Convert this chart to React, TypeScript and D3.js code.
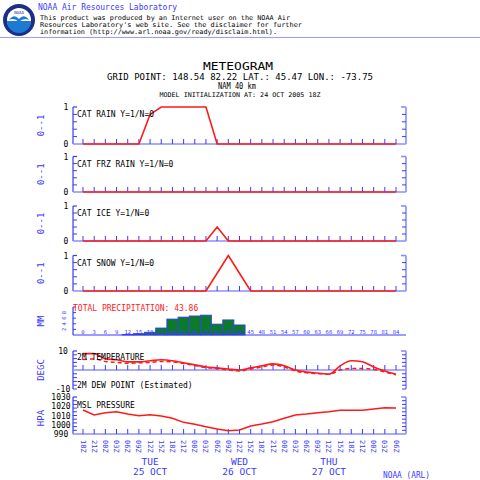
import React from 'react';
import * as d3 from 'd3';

const hours = [0,3,6,9,12,15,18,21,24,27,30,33,36,39,42,45,48,51,54,57,60,63,66,69,72,75,78,81,84];
const timeLabels = ["18Z","21Z","00Z","03Z","06Z","09Z","12Z","15Z","18Z","21Z","00Z","03Z","06Z","09Z","12Z","15Z","18Z","21Z","00Z","03Z","06Z","09Z","12Z","15Z","18Z","21Z","00Z","03Z","06Z"];
const dayNames = ["TUE","WED","THU"];
const dayDates = ["25 OCT","26 OCT","27 OCT"];
const dayHours = [18,42,66];

const catRain    = [0,0,0,0,0,0,0.8,1,1,1,1,1,0,0,0,0,0,0,0,0,0,0,0,0,0,0,0,0,0];
const catFrzRain = [0,0,0,0,0,0,0,0,0,0,0,0,0,0,0,0,0,0,0,0,0,0,0,0,0,0,0,0,0];
const catIce     = [0,0,0,0,0,0,0,0,0,0,0,0,0.4,0,0,0,0,0,0,0,0,0,0,0,0,0,0,0,0];
const catSnow    = [0,0,0,0,0,0,0,0,0,0,0,0,0.5,1,0.5,0,0,0,0,0,0,0,0,0,0,0,0,0,0];

const precip     = [0,0,0,0,0.2,0.5,1.0,2.5,5.7,6.4,6.8,7.1,3.9,5.4,3.6,0,0,0,0,0,0,0,0,0,0,0,0,0,0];
const precipLabels = ["0","3","6","9","12","15","18","21","24","27","30","33","36","39","42","45","48","51","54","57","60","63","66","69","72","75","78","81","84"];
const totalPrecip = "43.86";

const temperature = [8.6,8.6,5.9,5.4,4.3,4.3,4.9,5.4,4.9,3.8,2.7,1.6,1.1,0.5,0,1.1,2.2,3.2,2.2,0,-1.1,-1.6,-2.2,2.2,4.9,4.3,1.6,-0.5,-2.2];
const dewPoint    = [5.5,5.8,4.5,4.0,3.5,3.8,4.0,4.5,4.3,3.4,2.4,1.3,0.8,0.0,-0.5,0.5,1.6,2.6,1.6,-0.5,-1.5,-1.9,-2.2,0.0,0.8,0.8,0.3,-1.0,-2.5];
const pressure    = [1015.9,1010.5,1013.0,1014.1,1011.6,1009.8,1010.9,1009.5,1007.0,1002.6,1000.5,997.9,995.4,993.6,994.3,998.6,1000.8,1003.3,1007.0,1010.5,1011.6,1013.0,1014.1,1015.6,1015.6,1015.6,1017.0,1018.4,1018.0];
const pressureTicks = [1030,1020,1010,1000,990];

const BLUE = '#3a3aff';
const LBLUE = '#8c8cff';
const RED = '#ff1a1a';
const MONO = '"DejaVu Sans Mono", "Liberation Mono", monospace';
const X0 = 73, X1 = 406;

const x = d3.scaleLinear().domain([0, 84]).range([83, 396]);

function Frame({ top, bot, base, leftTicks, rightTicks }: { top: number; bot: number; base: number; leftTicks: number[]; rightTicks: number[] }) {
  return (
    <g>
      <line x1={X0} y1={top} x2={X0} y2={bot} stroke={BLUE} strokeWidth={1.2} />
      <line x1={X0} y1={top} x2={X0 + 4} y2={top} stroke={BLUE} strokeWidth={1.2} />
      {leftTicks.map((t, i) => (
        <line key={i} x1={X0} y1={t} x2={X0 + 4} y2={t} stroke={BLUE} strokeWidth={1} />
      ))}
      <line x1={X1} y1={top} x2={X1} y2={bot} stroke={LBLUE} strokeWidth={1.6} />
      <line x1={X1 - 5} y1={top} x2={X1} y2={top} stroke={LBLUE} strokeWidth={1.6} />
      {rightTicks.map((t, i) => (
        <line key={i} x1={X1 - 4} y1={t} x2={X1} y2={t} stroke={BLUE} strokeWidth={1} />
      ))}
      <line x1={X0} y1={base} x2={X1} y2={base} stroke={LBLUE} strokeWidth={1.6} />
      {hours.map((h) => (
        <line key={h} x1={x(h)} y1={base} x2={x(h)} y2={base - 5} stroke={BLUE} strokeWidth={1} />
      ))}
    </g>
  );
}

function YLabel({ text, cy }: { text: string; cy: number }) {
  return (
    <text x={0} y={0} transform={`translate(44,${cy}) rotate(-90)`} textAnchor="middle" fontFamily={MONO} fontSize={9} fill={BLUE}>{text}</text>
  );
}

export default function App() {
  const catPanels = [
    { title: 'CAT RAIN Y=1/N=0', data: catRain, top: 107, bot: 144 },
    { title: 'CAT FRZ RAIN Y=1/N=0', data: catFrzRain, top: 156.5, bot: 192 },
    { title: 'CAT ICE Y=1/N=0', data: catIce, top: 206, bot: 241 },
    { title: 'CAT SNOW Y=1/N=0', data: catSnow, top: 255.5, bot: 291 },
  ];

  const pTop = 307, pBot = 335;
  const yP = d3.scaleLinear().domain([0, 10]).range([pBot, pTop]);
  const tTop = 351, tBot = 389;
  const yT = d3.scaleLinear().domain([-10, 10]).range([tBot, tTop]);
  const prTop = 397, prBot = 434;
  const yPr = d3.scaleLinear().domain([990, 1030]).range([prBot, prTop]);

  const tempLine = d3.line<number>().x((_, i) => x(hours[i])).y((v) => yT(v)).curve(d3.curveMonotoneX);
  const presLine = d3.line<number>().x((_, i) => x(hours[i])).y((v) => yPr(v));

  return (
    <svg width={480} height={480} style={{ position: 'absolute', left: 0, top: 0, background: '#fff' }}>
      <rect x={0} y={0} width={480} height={480} fill="#ffffff" />
      <g>
        <circle cx={19} cy={20} r={16} fill="#1b2f86" />
        <circle cx={19} cy={20} r={12} fill="#ffffff" />
        <path d="M7,21 A12,12 0 0 0 31,21 Z" fill="#1c79d4" />
        <path d="M9,20 Q14,13 19,19 Q24,13 29,20 Q24,17 19,22 Q14,17 9,20 Z" fill="#1c79d4" />
        <text x={19} y={14} textAnchor="middle" fontFamily={MONO} fontSize={4} fill="#1b2f86">NOAA</text>
      </g>
      <text x={38} y={10} fontFamily={MONO} fontSize={9.5} fill="#3a3aff" textLength={139} lengthAdjust="spacingAndGlyphs">NOAA Air Resources Laboratory</text>
      <text x={40} y={19.5} fontFamily={MONO} fontSize={6.6} fill="#000" textLength={250} lengthAdjust="spacingAndGlyphs">This product was produced by an Internet user on the NOAA Air</text>
      <text x={40} y={26.5} fontFamily={MONO} fontSize={6.6} fill="#000" textLength={262} lengthAdjust="spacingAndGlyphs">Resources Laboratory's web site.  See the disclaimer for further</text>
      <text x={40} y={33.5} fontFamily={MONO} fontSize={6.6} fill="#000" textLength={237} lengthAdjust="spacingAndGlyphs">information (http://www.arl.noaa.gov/ready/disclaim.html).</text>
      <line x1={0} y1={37.5} x2={480} y2={37.5} stroke="#9a9aff" strokeWidth={1} />

      <text x={238} y={70} textAnchor="middle" fontFamily={MONO} fontSize={11} fill="#000" textLength={70} lengthAdjust="spacingAndGlyphs">METEOGRAM</text>
      <text x={240} y={80} textAnchor="middle" fontFamily={MONO} fontSize={9} fill="#000" textLength={266} lengthAdjust="spacingAndGlyphs">GRID POINT: 148.54  82.22 LAT.: 45.47 LON.: -73.75</text>
      <text x={237} y={89} textAnchor="middle" fontFamily={MONO} fontSize={9} fill="#000" textLength={38} lengthAdjust="spacingAndGlyphs">NAM 40 km</text>
      <text x={240} y={97} textAnchor="middle" fontFamily={MONO} fontSize={6.5} fill="#000" textLength={161} lengthAdjust="spacingAndGlyphs">MODEL INITIALIZATION AT: 24 OCT 2005 18Z</text>

      {catPanels.map((p, i) => {
        const y = d3.scaleLinear().domain([0, 1]).range([p.bot, p.top]);
        const line = d3.line<number>().x((_, k) => x(hours[k])).y((v) => y(v));
        return (
          <g key={i}>
            <Frame top={p.top} bot={p.bot} base={p.bot} leftTicks={[0.2, 0.4, 0.6, 0.8].map(y)} rightTicks={[0.2, 0.4, 0.6, 0.8].map(y)} />
            <path d={line(p.data) || ''} fill="none" stroke={RED} strokeWidth={1.6} />
            <text x={66} y={p.top + 3} textAnchor="middle" fontFamily={MONO} fontSize={8} fill="#000">1</text>
            <text x={66} y={p.bot + 3} textAnchor="middle" fontFamily={MONO} fontSize={8} fill="#000">0</text>
            <text x={77} y={p.top + 10} fontFamily={MONO} fontSize={8} fill="#000">{p.title}</text>
            <YLabel text="0--1" cy={(p.top + p.bot) / 2} />
          </g>
        );
      })}

      <g>
        {precip.map((v, i) => v > 0 ? (
          <rect key={i} x={x(hours[i] - 1.5)} y={yP(v)} width={x(hours[i] + 1.5) - x(hours[i] - 1.5)} height={pBot - yP(v)} fill="#0b7a2a" stroke={BLUE} strokeWidth={0.8} />
        ) : null)}
        <line x1={X0} y1={pTop} x2={X0} y2={pBot} stroke={BLUE} strokeWidth={1.2} />
        {[2, 4, 6, 8, 10].map((v) => (
          <line key={v} x1={X0} y1={yP(v)} x2={X0 + 3} y2={yP(v)} stroke={BLUE} strokeWidth={1} />
        ))}
        <line x1={X0} y1={pBot} x2={X1} y2={pBot} stroke={BLUE} strokeWidth={1.2} />
        {precipLabels.map((l, i) => (
          <text key={i} x={x(hours[i])} y={pBot - 1.5} textAnchor="middle" fontFamily={MONO} fontSize={5.5} fill={BLUE}>{l}</text>
        ))}
        {[2, 4, 6, 8].map((v) => (
          <text key={v} x={0} y={0} transform={`translate(66,${yP(v)}) rotate(-90)`} textAnchor="middle" fontFamily={MONO} fontSize={5.5} fill={BLUE}>{v}</text>
        ))}
        <text x={73} y={311} fontFamily={MONO} fontSize={8} fill={RED}>TOTAL PRECIPITATION:  {totalPrecip}</text>
        <YLabel text="MM" cy={321} />
      </g>

      <g>
        <Frame top={tTop} bot={tBot} base={yT(0)} leftTicks={[-8,-6,-4,-2,2,4,6,8,-10].map(yT)} rightTicks={[-10,-8,-6,-4,-2,2,4,6,8].map(yT)} />
        <path d={tempLine(dewPoint) || ''} fill="none" stroke={RED} strokeWidth={1.5} strokeDasharray="4,3" />
        <path d={tempLine(temperature) || ''} fill="none" stroke={RED} strokeWidth={1.6} />
        <text x={63} y={yT(10) + 3} textAnchor="middle" fontFamily={MONO} fontSize={8} fill="#000">10</text>
        <text x={63} y={yT(-10) + 3} textAnchor="middle" fontFamily={MONO} fontSize={8} fill="#000">-10</text>
        <text x={77} y={yT(10) + 9} fontFamily={MONO} fontSize={8} fill="#000">2M TEMPERATURE</text>
        <text x={77} y={yT(-10) - 1} fontFamily={MONO} fontSize={8} fill="#000">2M DEW POINT (Estimated)</text>
        <YLabel text="DEGC" cy={370} />
      </g>

      <g>
        <Frame top={prTop} bot={prBot} base={prBot} leftTicks={[1026,1022,1018,1014,1010,1006,1002,998,994].map(yPr)} rightTicks={[1026,1022,1018,1014,1010,1006,1002,998,994].map(yPr)} />
        <path d={presLine(pressure) || ''} fill="none" stroke={RED} strokeWidth={1.5} />
        {pressureTicks.map((v) => (
          <text key={v} x={61} y={yPr(v) + 3} textAnchor="middle" fontFamily={MONO} fontSize={8} fill="#000">{v}</text>
        ))}
        <text x={77} y={yPr(1030) + 11} fontFamily={MONO} fontSize={8} fill="#000">MSL PRESSURE</text>
        <YLabel text="HPA" cy={418} />
      </g>

      {hours.map((h, i) => (
        <text key={h} x={0} y={0} transform={`translate(${x(h) - 2.5},440) rotate(90)`} fontFamily={MONO} fontSize={7} fill={BLUE}>{timeLabels[i]}</text>
      ))}
      {dayHours.map((h, i) => (
        <g key={h}>
          <text x={x(h)} y={465} textAnchor="middle" fontFamily={MONO} fontSize={9.5} fill={BLUE}>{dayNames[i]}</text>
          <text x={x(h)} y={475} textAnchor="middle" fontFamily={MONO} fontSize={9.5} fill={BLUE}>{dayDates[i]}</text>
        </g>
      ))}
      <text x={383} y={478} fontFamily={MONO} fontSize={8} fill={BLUE} textLength={47} lengthAdjust="spacingAndGlyphs">NOAA (ARL)</text>
    </svg>
  );
}
